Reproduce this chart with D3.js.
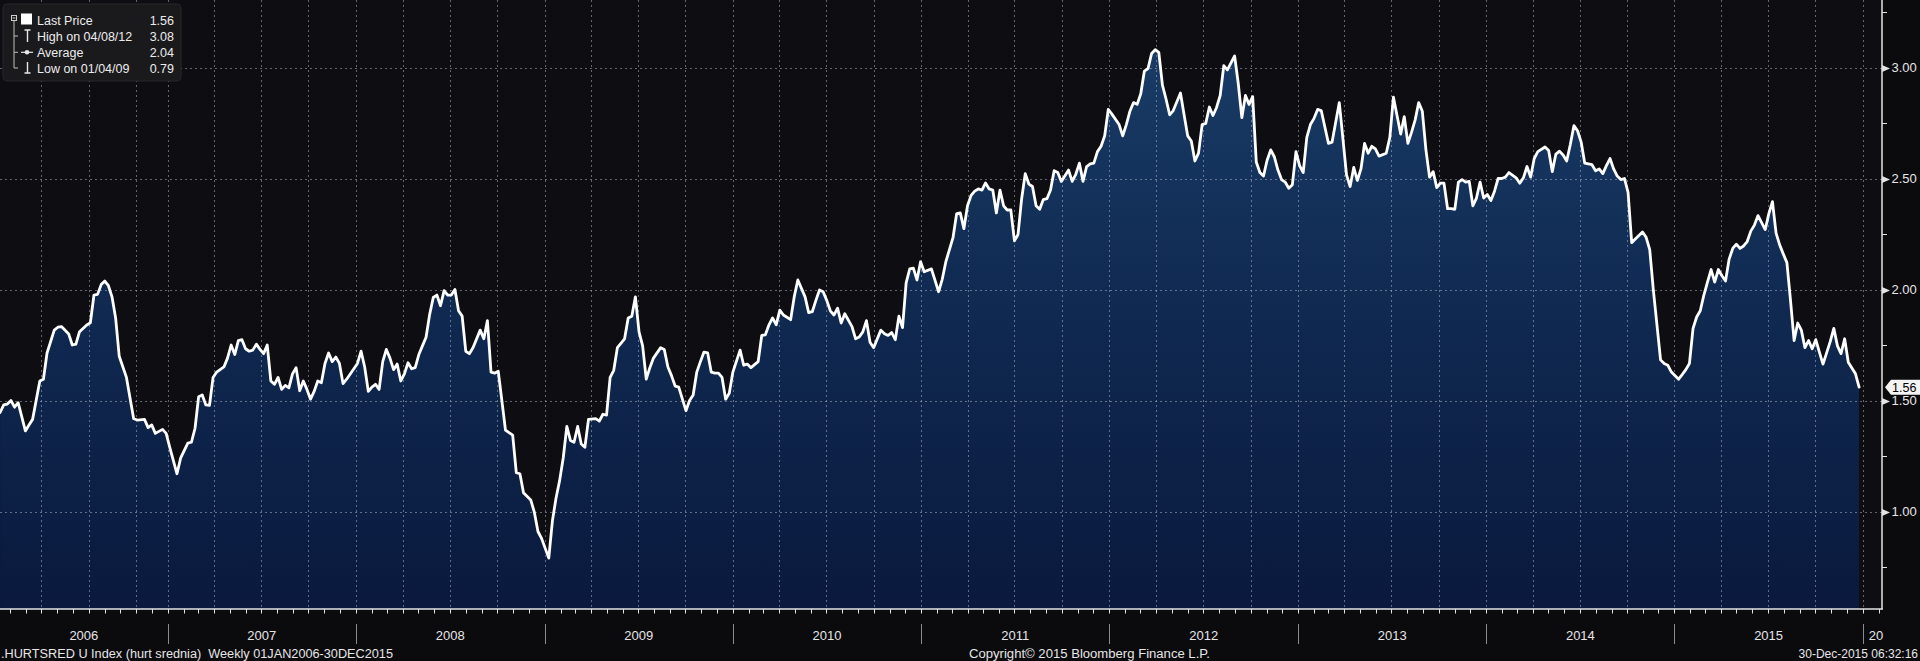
<!DOCTYPE html>
<html><head><meta charset="utf-8">
<script src="https://cdn.jsdelivr.net/npm/d3@7/dist/d3.min.js"></script>
<style>
html,body{margin:0;padding:0;background:#0c0b0e;overflow:hidden}
svg{display:block}
text{font-family:"Liberation Sans",Arial,sans-serif}
</style></head><body>
<svg id="chart" width="1920" height="661"></svg>
<script>
// ---------------- DATA ----------------
// week index counted from the first weekly observation date (base date below)
const weeks2006_2008 = [5,6,7,8,9,10,12,13,14,16,17,18,20,21,22,24,25,26,27,29,30,31,32,33,34,35,36,37,38,40,41,42,43,45,46,47,48,50,51,52,54,55,57,58,59,60,61,62,63,64,65,67,68,69,70,71,72,73,74,75,76,77,78,79,80,81,82,83,84,85,86,87,88,89,90,91,92,93,94,95,96,97,98,99,100,101,103,104,105,106,107,108,109,110,111,112,113,114,115,116,117,118,119,120,121,122,123,124,125,126,127,128,129,130,131,132,133];
const prices2006_2008 = [1.446,1.48,1.484,1.50,1.47,1.49,1.363,1.39,1.415,1.588,1.596,1.714,1.817,1.83,1.833,1.80,1.75,1.754,1.81,1.84,1.85,1.975,1.978,2.022,2.038,2.017,1.967,1.872,1.699,1.604,1.51,1.418,1.412,1.415,1.378,1.39,1.352,1.37,1.352,1.289,1.17,1.24,1.308,1.312,1.375,1.517,1.525,1.48,1.478,1.604,1.628,1.651,1.691,1.75,1.707,1.77,1.774,1.733,1.722,1.727,1.754,1.73,1.711,1.75,1.588,1.573,1.604,1.55,1.568,1.557,1.62,1.648,1.544,1.588,1.55,1.506,1.541,1.588,1.58,1.667,1.714,1.675,1.696,1.667,1.576,1.596,1.643,1.667,1.722,1.651,1.541,1.56,1.573,1.55,1.675,1.73,1.691,1.639,1.664,1.588,1.62,1.67,1.643,1.648,1.707,1.746,1.785,1.888,1.964,1.975,1.927,1.995,1.975,1.975,2.0,1.904,1.88];

const weeks2008_2011 = [134,135,136,138,139,140,141,142,143,145,146,147,148,149,150,152,153,154,155,157,158,159,160,161,162,163,164,165,166,167,168,170,171,172,173,174,175,176,178,179,180,181,182,183,184,185,186,188,189,190,191,192,193,195,196,197,198,199,200,201,202,203,204,205,206,207,208,210,211,212,213,215,216,217,218,219,220,221,222,224,225,226,228,229,230,231,232,233,234,235,236,237,238,239,241,242,243,244,245,246,247,249,250,251,252,253,254,255,256,257,258,259,260,261,263];
const prices2008_2011 = [1.722,1.711,1.738,1.817,1.778,1.86,1.628,1.623,1.632,1.367,1.355,1.344,1.175,1.17,1.084,1.052,0.997,0.91,0.879,0.79,0.957,1.06,1.139,1.241,1.383,1.32,1.312,1.383,1.304,1.289,1.415,1.418,1.407,1.438,1.434,1.604,1.636,1.738,1.778,1.872,1.88,1.967,1.809,1.746,1.596,1.648,1.691,1.738,1.73,1.651,1.612,1.565,1.56,1.454,1.50,1.525,1.628,1.675,1.718,1.715,1.628,1.623,1.623,1.604,1.506,1.533,1.628,1.727,1.659,1.664,1.648,1.675,1.793,1.796,1.841,1.872,1.841,1.907,1.885,1.864,1.967,2.043,1.967,1.896,1.90,1.951,1.998,1.99,1.951,1.904,1.885,1.916,1.849,1.891,1.833,1.778,1.786,1.809,1.86,1.762,1.738,1.817,1.801,1.793,1.806,1.774,1.88,1.828,2.03,2.093,2.096,2.043,2.125,2.08,2.093];

const weeks2011_2013 = [265,266,267,269,270,271,272,273,274,275,276,277,278,279,280,281,282,283,284,285,286,287,288,289,290,291,292,293,294,295,296,297,298,299,301,302,303,304,305,306,307,308,309,310,311,312,313,315,316,317,318,319,320,321,322,323,324,325,326,327,328,329,330,332,333,334,335,336,337,338,339,340,341,342,343,344,345,347,348,349,350,351,352,353,354,355,356,357,358,359,360,361,362,363,364,365,366,367,368,369,370,371,372,373,374,376,377,378,379,380,381,382,383,384,385,386,387,389,390,391];
const prices2011_2013 = [1.99,2.046,2.125,2.235,2.342,2.345,2.274,2.377,2.424,2.443,2.453,2.448,2.48,2.453,2.448,2.345,2.448,2.377,2.358,2.358,2.219,2.248,2.409,2.522,2.475,2.464,2.377,2.361,2.405,2.409,2.448,2.535,2.527,2.487,2.538,2.487,2.519,2.569,2.487,2.554,2.566,2.569,2.621,2.645,2.692,2.811,2.79,2.743,2.692,2.743,2.803,2.842,2.834,2.882,2.984,2.995,3.063,3.08,3.068,2.921,2.858,2.787,2.806,2.885,2.787,2.692,2.669,2.579,2.614,2.743,2.748,2.822,2.784,2.82,2.874,3.008,2.989,3.052,2.929,2.774,2.874,2.834,2.869,2.574,2.527,2.511,2.582,2.629,2.598,2.538,2.495,2.484,2.456,2.472,2.621,2.558,2.527,2.685,2.743,2.771,2.811,2.806,2.732,2.658,2.664,2.842,2.68,2.516,2.464,2.55,2.491,2.543,2.658,2.614,2.645,2.633,2.601,2.614,2.685,2.866];

const weeks2013_2015 = [393,394,395,396,397,398,399,400,401,402,403,404,405,406,407,408,409,410,411,412,413,414,415,416,417,418,419,420,421,422,423,425,426,427,428,429,430,431,433,434,435,436,437,438,439,440,441,442,443,444,446,447,448,449,450,451,452,453,454,455,456,457,458,460,461,462,463,464,465,466,467,468,470,471,472,473,474,475,476,477,478,479,480,481,482,483,484,485,486,487,488,489,490,491,492,493,494,495,496,497,498,499,500,501,502,503,504,505,506,507,508,509,510,512,513,514,515,516,517,519,520];
const prices2013_2015 = [2.70,2.779,2.658,2.708,2.763,2.842,2.803,2.629,2.506,2.531,2.459,2.479,2.479,2.364,2.364,2.361,2.484,2.495,2.484,2.487,2.377,2.412,2.484,2.412,2.428,2.401,2.443,2.5,2.5,2.506,2.527,2.503,2.479,2.503,2.554,2.506,2.59,2.621,2.642,2.626,2.531,2.61,2.623,2.606,2.579,2.653,2.738,2.715,2.664,2.569,2.562,2.535,2.543,2.522,2.558,2.59,2.543,2.511,2.495,2.5,2.437,2.211,2.227,2.259,2.235,2.18,1.998,1.841,1.683,1.667,1.659,1.628,1.596,1.617,1.639,1.667,1.825,1.876,1.904,1.975,2.033,2.09,2.033,2.09,2.062,2.038,2.137,2.185,2.204,2.185,2.196,2.216,2.263,2.29,2.333,2.301,2.27,2.342,2.396,2.254,2.201,2.16,2.121,1.951,1.77,1.849,1.817,1.738,1.77,1.733,1.774,1.718,1.664,1.765,1.825,1.746,1.711,1.778,1.672,1.62,1.56];

const yTickValues = [1.00, 1.50, 2.00, 2.50, 3.00];
const yMinorValues = [0.75, 1.25, 1.75, 2.25, 2.75, 3.25];
const yearLabels = ['2006','2007','2008','2009','2010','2011','2012','2013','2014','2015'];
const nextYearLabel = '20';
const legendLabels = ['Last Price', 'High on 04/08/12', 'Average', 'Low on 01/04/09'];
const legendValues = ['1.56', '3.08', '2.04', '0.79'];
const lastPriceLabel = '1.56';
const footerLeft = '.HURTSRED U Index (hurt srednia)  Weekly 01JAN2006-30DEC2015';
const footerMid = 'Copyright\u00A9 2015 Bloomberg Finance L.P.';
const footerRight = '30-Dec-2015 06:32:16';

// ---------------- BUILD ----------------
const baseDate = Date.UTC(2006, 0, 6);
const allWeeks = [].concat(weeks2006_2008, weeks2008_2011, weeks2011_2013, weeks2013_2015);
const allPrices = [].concat(prices2006_2008, prices2008_2011, prices2011_2013, prices2013_2015);
const data = allWeeks.map((w, i) => ({date: d3.utcDay.offset(new Date(baseDate), 7 * w), value: allPrices[i]}));

const W = 1920, H = 661;
const plotRight = 1882, plotBottom = 609;

const x = d3.scaleUtc().domain([new Date(Date.UTC(2007,0,1)), new Date(Date.UTC(2016,0,1))]).range([167.7, 1862.7]);
const y = d3.scaleLinear().domain([1.5, 3.0]).range([400.5, 67.5]);

const svg = d3.select('#chart');
svg.append('rect').attr('width', W).attr('height', H).attr('fill', '#0b0a0d');
svg.append('rect').attr('width', plotRight).attr('height', plotBottom).attr('fill', '#0e0d11');

const defs = svg.append('defs');
const grad = defs.append('linearGradient').attr('id', 'areaGrad')
  .attr('gradientUnits', 'userSpaceOnUse').attr('x1', 0).attr('y1', 40).attr('x2', 0).attr('y2', plotBottom);
grad.append('stop').attr('offset', '0%').attr('stop-color', '#193c66');
grad.append('stop').attr('offset', '45%').attr('stop-color', '#102a52');
grad.append('stop').attr('offset', '100%').attr('stop-color', '#0a193d');

const clip = defs.append('clipPath').attr('id', 'plotClip');
clip.append('rect').attr('x', 0).attr('y', 0).attr('width', plotRight).attr('height', plotBottom);

const plot = svg.append('g').attr('clip-path', 'url(#plotClip)');

const area = d3.area().x(d => x(d.date)).y0(plotBottom).y1(d => y(d.value));
plot.append('path').datum(data).attr('d', area).attr('fill', 'url(#areaGrad)');

// gridlines
const vGridDates = [new Date(Date.UTC(2006,4,1)), new Date(Date.UTC(2006,7,1)), new Date(Date.UTC(2006,10,1))]
  .concat(d3.utcMonth.every(3).range(new Date(Date.UTC(2007,0,1)), new Date(Date.UTC(2016,0,2))));
plot.selectAll('line.vgrid').data(vGridDates).enter().append('line')
  .attr('class', 'vgrid')
  .attr('x1', d => Math.round(x(d)) + 0.5).attr('x2', d => Math.round(x(d)) + 0.5)
  .attr('y1', 0).attr('y2', plotBottom)
  .attr('stroke', '#a9b1c2').attr('stroke-opacity', 0.55).attr('stroke-width', 1).attr('stroke-dasharray', '2,3');
plot.selectAll('line.hgrid').data(yTickValues).enter().append('line')
  .attr('class', 'hgrid')
  .attr('x1', 0).attr('x2', plotRight)
  .attr('y1', d => Math.round(y(d)) + 0.5).attr('y2', d => Math.round(y(d)) + 0.5)
  .attr('stroke', '#a9b1c2').attr('stroke-opacity', 0.55).attr('stroke-width', 1).attr('stroke-dasharray', '2,3');

const line = d3.line().x(d => x(d.date)).y(d => y(d.value));
plot.append('path').datum(data).attr('d', line)
  .attr('fill', 'none').attr('stroke', '#ffffff').attr('stroke-width', 2.8)
  .attr('stroke-linejoin', 'round').attr('stroke-linecap', 'round');

// right axis
const axisColor = '#e4e4e4';
svg.append('line').attr('x1', plotRight).attr('x2', plotRight).attr('y1', 0).attr('y2', plotBottom + 0.5)
  .attr('stroke', axisColor).attr('stroke-width', 1.5);
svg.selectAll('line.yminor').data(yMinorValues).enter().append('line')
  .attr('x1', plotRight).attr('x2', plotRight + 5)
  .attr('y1', d => Math.round(y(d)) + 0.5).attr('y2', d => Math.round(y(d)) + 0.5)
  .attr('stroke', axisColor).attr('stroke-width', 1);
svg.selectAll('path.ymajor').data(yTickValues).enter().append('path')
  .attr('d', d => { const yy = Math.round(y(d)) + 0.5; return `M${plotRight},${yy-3.5}L${plotRight+8},${yy}L${plotRight},${yy+3.5}Z`; })
  .attr('fill', axisColor);
svg.selectAll('text.ylab').data(yTickValues).enter().append('text')
  .attr('x', plotRight + 9.5).attr('y', d => y(d) + 4.7)
  .attr('fill', '#e6e6e6').attr('font-size', '13px')
  .text(d => d.toFixed(2));

// last price tag
const lpY = y(+lastPriceLabel);
svg.append('path')
  .attr('d', `M${plotRight+3},${lpY}L${plotRight+9},${lpY-7.5}L${W},${lpY-7.5}L${W},${lpY+7.5}L${plotRight+9},${lpY+7.5}Z`)
  .attr('fill', '#f4f4f4');
svg.append('text').attr('x', plotRight + 10).attr('y', lpY + 4.5)
  .attr('fill', '#000').attr('font-size', '12.5px').text(lastPriceLabel);

// bottom axis
svg.append('line').attr('x1', 0).attr('x2', plotRight + 0.75).attr('y1', plotBottom).attr('y2', plotBottom)
  .attr('stroke', axisColor).attr('stroke-width', 1.5);
const monthTicks = d3.utcMonth.range(new Date(Date.UTC(2006,1,1)), new Date(Date.UTC(2016,1,2)));
svg.selectAll('line.mtick').data(monthTicks).enter().append('line')
  .attr('x1', d => Math.round(x(d)) + 0.5).attr('x2', d => Math.round(x(d)) + 0.5)
  .attr('y1', plotBottom).attr('y2', plotBottom + 4.5)
  .attr('stroke', axisColor).attr('stroke-width', 1);
const yearStarts = d3.utcYear.range(new Date(Date.UTC(2007,0,1)), new Date(Date.UTC(2016,0,2)));
svg.selectAll('line.ysep').data(yearStarts).enter().append('line')
  .attr('x1', d => Math.round(x(d)) + 0.5).attr('x2', d => Math.round(x(d)) + 0.5)
  .attr('y1', 624).attr('y2', 644)
  .attr('stroke', '#8c8c8c').attr('stroke-width', 1);
const yearBounds = [0].concat(yearStarts.map(d => x(d)));
svg.selectAll('text.year').data(yearLabels).enter().append('text')
  .attr('x', (d, i) => (yearBounds[i] + yearBounds[i + 1]) / 2)
  .attr('y', 640).attr('text-anchor', 'middle')
  .attr('fill', '#e6e6e6').attr('font-size', '13px').text(d => d);
svg.append('text').attr('x', x(yearStarts[yearStarts.length - 1]) + 6).attr('y', 640)
  .attr('fill', '#e6e6e6').attr('font-size', '13px').text(nextYearLabel);

// footer
svg.append('text').attr('x', 1).attr('y', 657.5).attr('fill', '#e6e6e6').attr('font-size', '12px')
  .attr('textLength', 392).attr('lengthAdjust', 'spacingAndGlyphs').style('white-space', 'pre').text(footerLeft);
svg.append('text').attr('x', 969).attr('y', 657.5).attr('fill', '#e6e6e6').attr('font-size', '12px')
  .attr('textLength', 241).attr('lengthAdjust', 'spacingAndGlyphs').text(footerMid);
svg.append('text').attr('x', 1918).attr('y', 657.5).attr('text-anchor', 'end').attr('fill', '#e6e6e6').attr('font-size', '12px')
  .text(footerRight);

// legend
const lg = svg.append('g');
lg.append('rect').attr('x', 3).attr('y', 4).attr('width', 178).attr('height', 77).attr('rx', 4)
  .attr('fill', '#1a1a1d').attr('stroke', '#26262a').attr('stroke-width', 1);
const rowY = [20, 36, 52.3, 68];
// tree
lg.append('rect').attr('x', 11.5).attr('y', 15.5).attr('width', 5).attr('height', 5).attr('fill', 'none').attr('stroke', '#cfcfcf').attr('stroke-width', 1);
lg.append('line').attr('x1', 12.5).attr('x2', 15.5).attr('y1', 18).attr('y2', 18).attr('stroke', '#cfcfcf');
lg.append('line').attr('x1', 14).attr('x2', 14).attr('y1', 21).attr('y2', rowY[3]).attr('stroke', '#bdbdbd').attr('stroke-width', 1);
[1,2,3].forEach(i => lg.append('line').attr('x1', 14).attr('x2', 18).attr('y1', rowY[i]).attr('y2', rowY[i]).attr('stroke', '#bdbdbd'));
// icons
lg.append('rect').attr('x', 21).attr('y', 13.5).attr('width', 11).attr('height', 11).attr('fill', '#ffffff');
lg.append('path').attr('d', `M24.5,${rowY[1]-6}L30.5,${rowY[1]-6}M27.5,${rowY[1]-6}L27.5,${rowY[1]+6}`).attr('stroke', '#e8e8e8').attr('stroke-width', 1.4).attr('fill', 'none');
lg.append('line').attr('x1', 21).attr('x2', 33).attr('y1', rowY[2]).attr('y2', rowY[2]).attr('stroke', '#e8e8e8').attr('stroke-width', 1.2);
lg.append('circle').attr('cx', 27).attr('cy', rowY[2]).attr('r', 2.3).attr('fill', '#e8e8e8');
lg.append('path').attr('d', `M27.5,${rowY[3]-6}L27.5,${rowY[3]+5}M24.5,${rowY[3]+5}L30.5,${rowY[3]+5}`).attr('stroke', '#e8e8e8').attr('stroke-width', 1.4).attr('fill', 'none');
lg.selectAll('text.lgl').data(legendLabels).enter().append('text')
  .attr('x', 37).attr('y', (d, i) => rowY[i] + 4.5)
  .attr('fill', '#ececec').attr('font-size', '12.5px').text(d => d);
lg.selectAll('text.lgv').data(legendValues).enter().append('text')
  .attr('x', 174).attr('y', (d, i) => rowY[i] + 4.5).attr('text-anchor', 'end')
  .attr('fill', '#ececec').attr('font-size', '12.5px').text(d => d);
</script>
</body></html>
